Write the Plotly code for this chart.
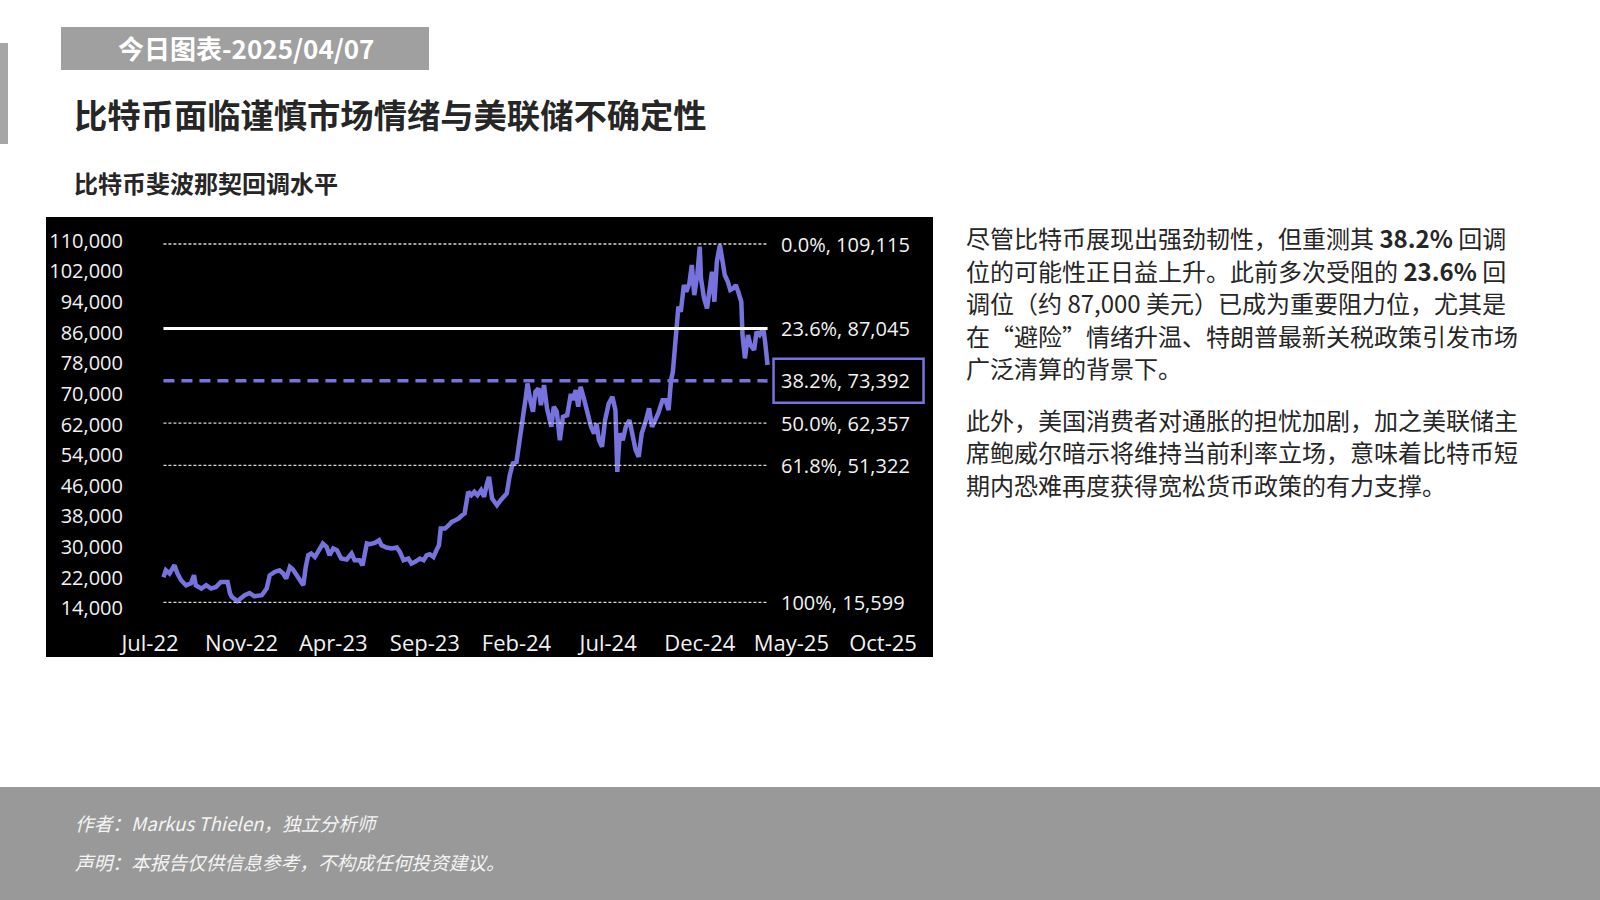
import plotly.graph_objects as go
import pandas as pd

# ---------------- data ----------------
dates = [
    "2022-07-23", "2022-07-27", "2022-08-02", "2022-08-10", "2022-08-15", "2022-08-21", "2022-08-29",
    "2022-09-06", "2022-09-11", "2022-09-14", "2022-09-23", "2022-10-01", "2022-10-09", "2022-10-17",
    "2022-10-25", "2022-11-05", "2022-11-09", "2022-11-12", "2022-11-21", "2022-12-03", "2022-12-11",
    "2022-12-19", "2022-12-31", "2023-01-08", "2023-01-13", "2023-01-21", "2023-01-29", "2023-02-04",
    "2023-02-09", "2023-02-15", "2023-02-20", "2023-02-26", "2023-03-03", "2023-03-09", "2023-03-13",
    "2023-03-17", "2023-03-22", "2023-03-28", "2023-04-02", "2023-04-10", "2023-04-16", "2023-04-21",
    "2023-04-27", "2023-05-03", "2023-05-10", "2023-05-19", "2023-05-27", "2023-06-01", "2023-06-09",
    "2023-06-14", "2023-06-21", "2023-06-26", "2023-07-04", "2023-07-11", "2023-07-15", "2023-07-23",
    "2023-08-01", "2023-08-09", "2023-08-14", "2023-08-20", "2023-08-28", "2023-09-02", "2023-09-08",
    "2023-09-16", "2023-09-22", "2023-09-27", "2023-10-02", "2023-10-08", "2023-10-13", "2023-10-17",
    "2023-10-20", "2023-10-27", "2023-11-02", "2023-11-07", "2023-11-13", "2023-11-18", "2023-11-24",
    "2023-11-28", "2023-12-04", "2023-12-09", "2023-12-14", "2023-12-19", "2023-12-25", "2023-12-30",
    "2024-01-03", "2024-01-07", "2024-01-12", "2024-01-20", "2024-01-26", "2024-01-31", "2024-02-05",
    "2024-02-10", "2024-02-15", "2024-02-21", "2024-02-27", "2024-03-03", "2024-03-07", "2024-03-10",
    "2024-03-15", "2024-03-19", "2024-03-23", "2024-03-28", "2024-04-01", "2024-04-06", "2024-04-11",
    "2024-04-18", "2024-04-22", "2024-04-27", "2024-05-02", "2024-05-07", "2024-05-14", "2024-05-20",
    "2024-05-23", "2024-05-28", "2024-06-01", "2024-06-05", "2024-06-11", "2024-06-16", "2024-06-22",
    "2024-06-27", "2024-07-01", "2024-07-05", "2024-07-10", "2024-07-15", "2024-07-21", "2024-07-27",
    "2024-08-01", "2024-08-04", "2024-08-08", "2024-08-13", "2024-08-18", "2024-08-24", "2024-08-30",
    "2024-09-03", "2024-09-08", "2024-09-13", "2024-09-20", "2024-09-25", "2024-09-30", "2024-10-05",
    "2024-10-10", "2024-10-17", "2024-10-22", "2024-10-27", "2024-10-31", "2024-11-03", "2024-11-08",
    "2024-11-12", "2024-11-16", "2024-11-21", "2024-11-25", "2024-11-30", "2024-12-04", "2024-12-08",
    "2024-12-13", "2024-12-17", "2024-12-19", "2024-12-24", "2024-12-29", "2025-01-02", "2025-01-06",
    "2025-01-10", "2025-01-14", "2025-01-19", "2025-01-24", "2025-01-27", "2025-02-01", "2025-02-05",
    "2025-02-10", "2025-02-14", "2025-02-18", "2025-02-23", "2025-02-25", "2025-03-01", "2025-03-06",
    "2025-03-10", "2025-03-16", "2025-03-20", "2025-03-25", "2025-03-31", "2025-04-03", "2025-04-07",
]
btc_price = [
    22135, 23960, 23100, 25270, 23100, 21350, 20050,
    20570, 22660, 20050, 19180, 20050, 19180, 19600,
    20910, 20910, 17880, 17000, 15900, 17440, 18030,
    17170, 17440, 19180, 22660, 23530, 23960, 23100,
    21790, 24840, 24150, 22660, 21790, 20050, 24840,
    27880, 28320, 27440, 28750, 30930, 30060, 27880,
    29630, 29190, 27020, 26760, 28320, 26580, 26580,
    25270, 30930, 30750, 31100, 31800, 30490, 29890,
    29630, 29890, 28750, 26580, 27020, 25710, 26150,
    27020, 26580, 27880, 28140, 27440, 29190, 30490,
    34840, 34840, 35720, 36590, 37030, 37460, 38330,
    38770, 44420, 43550, 44420, 43550, 44860, 43110,
    46170, 48330, 42690, 40940, 42250, 43110, 43990,
    48780, 51830, 52260, 60090, 64450, 68810, 72730,
    67920, 65310, 70530, 71420, 67060, 72280, 66200,
    61400, 66630, 65310, 57920, 64020, 64450, 70000,
    68350, 70960, 66630, 71840, 68350, 64890, 61400,
    59660, 62270, 57920, 56180, 63140, 67490, 69230,
    65740, 49630, 59660, 57920, 61400, 63140, 58800,
    55310, 53570, 59660, 63140, 66200, 61400, 63140,
    64890, 68350, 68350, 65740, 73570, 75760, 87090,
    92730, 91430, 98410, 96660, 98850, 103630, 95790,
    101020, 108410, 100150, 94930, 92320, 97540, 101880,
    94050, 104490, 108850, 104490, 101020, 99270, 97100,
    97540, 98410, 96660, 94050, 85360, 79260, 85360,
    82750, 81440, 86220, 85360, 87090, 83600, 77510,
]

fib_pct = ["0.0%", "23.6%", "38.2%", "50.0%", "61.8%", "100%"]
fib_val = [109115, 87045, 73392, 62357, 51322, 15599]

x_tick_dates = ["2022-07-01", "2022-11-28", "2023-04-27", "2023-09-24", "2024-02-21",
                "2024-07-20", "2024-12-17", "2025-05-16", "2025-10-13"]
x_tick_labels = ["Jul-22", "Nov-22", "Apr-23", "Sep-23", "Feb-24", "Jul-24", "Dec-24", "May-25", "Oct-25"]
y_tick_vals = [14000, 22000, 30000, 38000, 46000, 54000, 62000, 70000, 78000, 86000, 94000, 102000, 110000]

header_text = "今日图表-2025/04/07"
title_text = "比特币面临谨慎市场情绪与美联储不确定性"
subtitle_text = "比特币斐波那契回调水平"
body_lines_1 = [
    "尽管比特币展现出强劲韧性，但重测其 <b>38.2%</b> 回调",
    "位的可能性正日益上升。此前多次受阻的 <b>23.6%</b> 回",
    "调位（约 87,000 美元）已成为重要阻力位，尤其是",
    "在“避险”情绪升温、特朗普最新关税政策引发市场",
    "广泛清算的背景下。",
]
body_lines_2 = [
    "此外，美国消费者对通胀的担忧加剧，加之美联储主",
    "席鲍威尔暗示将维持当前利率立场，意味着比特币短",
    "期内恐难再度获得宽松货币政策的有力支撑。",
]
footer_lines = ["作者：Markus Thielen，独立分析师", "声明：本报告仅供信息参考，不构成任何投资建议。"]

# ---------------- layout geometry (pixels) ----------------
W, H = 1600, 900
PL, PR, PT, PB = 126, 932, 225, 628          # plot area
X0_PX, X_PER_DAY = 150, 733 / 1200            # Jul-22 tick at x=150, 150 days per tick
Y_REF_PX, Y_REF_VAL, Y_PER_PX = 244, 109115, 261.0

base = pd.Timestamp("2022-07-01")
x_range = [base + pd.Timedelta(days=(PL - X0_PX) / X_PER_DAY),
           base + pd.Timedelta(days=(PR - X0_PX) / X_PER_DAY)]
y_range = [Y_REF_VAL - (PB - Y_REF_PX) * Y_PER_PX, Y_REF_VAL + (Y_REF_PX - PT) * Y_PER_PX]


def px(x):
    return (x - PL) / (PR - PL)


def py(y):
    return (PB - y) / (PB - PT)


PURPLE = "#7773de"
CJK = "Noto Sans CJK SC"
LAT = "Open Sans"

fig = go.Figure()

fig.add_trace(go.Scatter(x=dates, y=btc_price, mode="lines",
                         line=dict(color=PURPLE, width=4.5), showlegend=False))

# fib levels
for pct, val in zip(fib_pct, fib_val):
    if pct == "23.6%":
        line = dict(color="white", width=3)
    elif pct == "38.2%":
        line = dict(color=PURPLE, width=3.5, dash="11px,7px")
    else:
        line = dict(color="#d8d8d8", width=1.3, dash="3px,2px")
    fig.add_trace(go.Scatter(x=[dates[0], dates[-1]], y=[val, val], mode="lines",
                             line=line, hoverinfo="skip", showlegend=False))

shapes = [
    dict(type="rect", xref="paper", yref="paper", x0=px(46), x1=px(933), y0=py(657), y1=py(217),
         fillcolor="black", line=dict(width=0), layer="below"),
    dict(type="rect", xref="paper", yref="paper", x0=px(0), x1=px(8), y0=py(144), y1=py(43),
         fillcolor="#a6a6a6", line=dict(width=0), layer="below"),
    dict(type="rect", xref="paper", yref="paper", x0=px(61), x1=px(429), y0=py(70), y1=py(27),
         fillcolor="#a0a0a0", line=dict(width=0), layer="below"),
    dict(type="rect", xref="paper", yref="paper", x0=px(0), x1=px(1600), y0=py(900), y1=py(787),
         fillcolor="#999999", line=dict(width=0), layer="below"),
    dict(type="rect", xref="x", yref="y", xsizemode="pixel", ysizemode="pixel",
         xanchor=dates[-1], x0=6, x1=156, yanchor=fib_val[2], y0=-22, y1=22,
         line=dict(color=PURPLE, width=2.5), fillcolor="rgba(0,0,0,0)"),
]

annotations = []
for pct, val in zip(fib_pct, fib_val):
    annotations.append(dict(xref="x", yref="y", x=dates[-1], y=val, xanchor="left", yanchor="middle",
                            xshift=11, text=f"{pct}, {val:,}", showarrow=False,
                            font=dict(family=LAT, size=20, color="#f2f2f2")))

annotations.append(dict(xref="paper", yref="paper", x=px(246), y=py(48), xanchor="center", yanchor="middle",
                        text=f"<b>{header_text}</b>", showarrow=False,
                        font=dict(family=CJK, size=26, color="white")))
annotations.append(dict(xref="paper", yref="paper", x=px(72), y=py(113), xanchor="left", yanchor="middle",
                        text=f"<b>{title_text}</b>", showarrow=False,
                        font=dict(family=CJK, size=33.3, color="#262626")))
annotations.append(dict(xref="paper", yref="paper", x=px(72), y=py(182), xanchor="left", yanchor="middle",
                        text=f"<b>{subtitle_text}</b>", showarrow=False,
                        font=dict(family=CJK, size=24, color="#262626")))

for i, t in enumerate(body_lines_1):
    annotations.append(dict(xref="paper", yref="paper", x=px(964), y=py(237.5 + 32.6 * i),
                            xanchor="left", yanchor="middle", text=t, showarrow=False,
                            font=dict(family=CJK, size=24, color="#262626")))
for i, t in enumerate(body_lines_2):
    annotations.append(dict(xref="paper", yref="paper", x=px(964), y=py(419 + 32.6 * i),
                            xanchor="left", yanchor="middle", text=t, showarrow=False,
                            font=dict(family=CJK, size=24, color="#262626")))

for i, t in enumerate(footer_lines):
    annotations.append(dict(xref="paper", yref="paper", x=px(73), y=py(822 + 39.5 * i),
                            xanchor="left", yanchor="middle", text=t, showarrow=False,
                            font=dict(family=CJK, size=18.7, color="#f4f4f4", style="italic")))

fig.update_layout(
    width=W, height=H,
    margin=dict(l=PL, r=W - PR, t=PT, b=H - PB, pad=0),
    paper_bgcolor="white", plot_bgcolor="rgba(0,0,0,0)",
    shapes=shapes, annotations=annotations, showlegend=False,
    xaxis=dict(type="date", range=x_range, tickvals=x_tick_dates, ticktext=x_tick_labels,
               showgrid=False, zeroline=False, showline=False, ticks="",
               tickfont=dict(family=LAT, size=22, color="#f2f2f2"), ticklabelstandoff=0),
    yaxis=dict(range=y_range, tickvals=y_tick_vals, tickformat=",",
               showgrid=False, zeroline=False, showline=False, ticks="",
               tickfont=dict(family=LAT, size=20, color="#f2f2f2"), ticklabelstandoff=2),
)

fig.write_html("out.html", config={"displayModeBar": False},
               post_script="document.body.style.margin='0';document.body.style.overflow='hidden';")
